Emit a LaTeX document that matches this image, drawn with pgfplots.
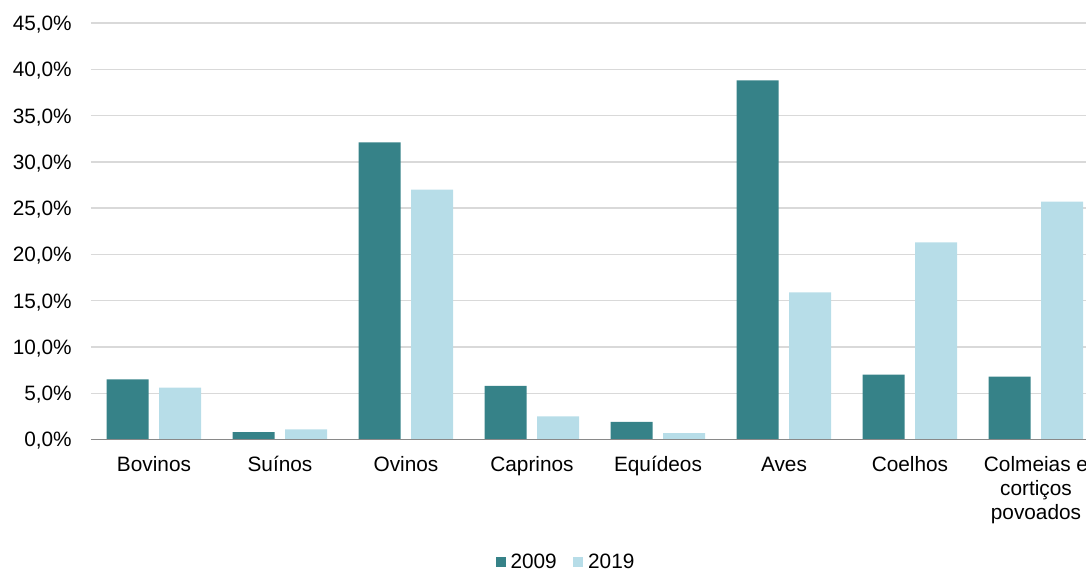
\documentclass[border=0pt]{standalone}
\usepackage{pgfplots}
\pgfplotsset{compat=1.18}
\usepackage{fontspec}
\setmainfont{Liberation Sans}
\definecolor{dark}{RGB}{54,130,136}
\definecolor{light}{RGB}{183,221,232}
\definecolor{gridc}{RGB}{217,217,217}
\definecolor{axc}{RGB}{137,137,137}
\newcommand{\lbl}{\fontsize{15.6}{18}\selectfont}
\begin{document}
\begin{tikzpicture}
\begin{axis}[
  at={(0,0)}, anchor=south west,
  scale only axis,
  width=756pt, height=312.375pt,
  xmin=-0.5, xmax=7.5, ymin=0, ymax=45,
  enlargelimits=false,
  ybar=7.875pt, bar width=31.5pt,
  axis line style={draw=none},
  xtick pos=bottom, ytick pos=left,
  ymajorgrids, grid style={gridc, line width=1pt},
  ytick={0,5,...,45},
  yticklabels={{0,0\%},{5,0\%},{10,0\%},{15,0\%},{20,0\%},{25,0\%},{30,0\%},{35,0\%},{40,0\%},{45,0\%}},
  xtick={0,...,7},
  xticklabels={Bovinos,Suínos,Ovinos,Caprinos,Equídeos,Aves,Coelhos,{\begin{tabular}[t]{@{}c@{}}Colmeias e\\cortiços\\povoados\end{tabular}}},
  major tick length=0pt,
  tick label style={font=\lbl, inner sep=0pt},
  yticklabel style={anchor=base east, xshift=-14.25pt, yshift=-5.6pt},
  xticklabel style={anchor=base, yshift=-24.2pt},
  legend style={at={(0.4727,-0.2941)}, anchor=center, draw=none, fill=none,
    font=\lbl, legend columns=-1, inner sep=0pt,
    nodes={inner sep=0pt, inner xsep=3.75pt},
    /tikz/every even column/.append style={column sep=8.5pt}},
  legend image code/.code={\fill[#1] (0pt,-3.75pt) rectangle (7.5pt,3.75pt);},
]
\addplot[fill=dark, draw=none] coordinates {(0,6.5) (1,0.8) (2,32.1) (3,5.8) (4,1.9) (5,38.8) (6,7.0) (7,6.8)};
\addplot[fill=light, draw=none] coordinates {(0,5.6) (1,1.1) (2,27.0) (3,2.5) (4,0.7) (5,15.9) (6,21.3) (7,25.7)};
\legend{2009,2019}
\draw[axc, line width=1.5pt] (axis cs:-0.5,0) -- (axis cs:7.5,0);
\end{axis}
\pgfresetboundingbox
\useasboundingbox (-68.25pt,-98.625pt) rectangle (746.25pt,329.625pt);
\end{tikzpicture}
\end{document}
